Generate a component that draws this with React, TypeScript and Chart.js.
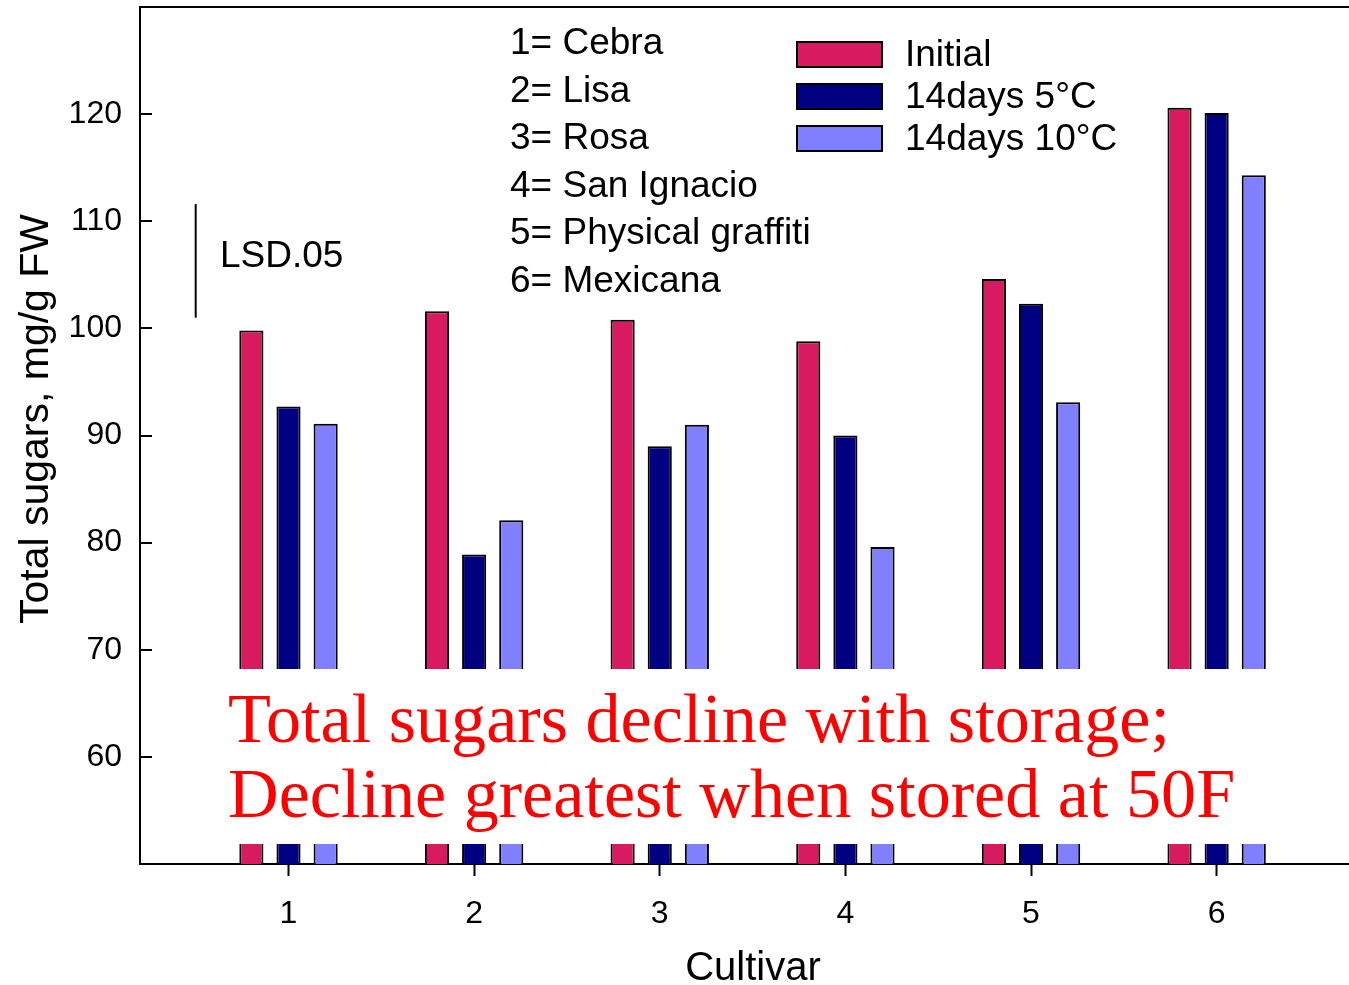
import React, { useEffect, useRef } from 'react';
import { Chart, registerables } from 'chart.js';

Chart.register(...registerables);

const cultivars = [1, 2, 3, 4, 5, 6];
const cultivarNames = ['Cebra', 'Lisa', 'Rosa', 'San Ignacio', 'Physical graffiti', 'Mexicana'];
const initialValues = [99.8, 101.6, 100.8, 98.8, 104.6, 120.6];
const days5Values = [92.7, 78.9, 89.0, 90.0, 102.3, 120.1];
const days10Values = [91.1, 82.1, 91.0, 79.6, 93.1, 114.3];
const seriesLabels = ['Initial', '14days 5°C', '14days 10°C'];
const seriesColors = ['#D81B60', '#000080', '#8080FF'];
const yTickValues = [60, 70, 80, 90, 100, 110, 120];
const lsdX = 0.5;
const lsdBase = 101.0;
const lsdValue = 10.6;
const noteLines = ['Total sugars decline with storage;', 'Decline greatest when stored at 50F'];

const SANS = '"Liberation Sans", Arial, sans-serif';
const SERIF = '"Liberation Serif", "Times New Roman", serif';

const overlayPlugin = {
  id: 'overlay',
  afterDraw(chart: any) {
    const ctx = chart.ctx as CanvasRenderingContext2D;
    const { chartArea, scales } = chart;
    const xs = scales.x;
    const ys = scales.y;
    ctx.save();
    ctx.strokeStyle = '#000';
    ctx.lineWidth = 2;
    // top frame line
    ctx.beginPath();
    ctx.moveTo(chartArea.left - 1, chartArea.top);
    ctx.lineTo(chartArea.right, chartArea.top);
    ctx.stroke();
    // inward y ticks
    yTickValues.forEach((v) => {
      const py = Math.round(ys.getPixelForValue(v));
      ctx.beginPath();
      ctx.moveTo(chartArea.left, py);
      ctx.lineTo(chartArea.left + 12, py);
      ctx.stroke();
    });
    // LSD bar
    const lx = xs.getPixelForValue(lsdX);
    ctx.beginPath();
    ctx.moveTo(lx, ys.getPixelForValue(lsdBase + lsdValue));
    ctx.lineTo(lx, ys.getPixelForValue(lsdBase));
    ctx.stroke();
    ctx.fillStyle = '#000';
    ctx.font = `37px ${SANS}`;
    ctx.textAlign = 'left';
    ctx.textBaseline = 'alphabetic';
    ctx.fillText('LSD.05', 220, 267);

    // cultivar key
    cultivarNames.forEach((name, i) => {
      ctx.fillText(`${cultivars[i]}= ${name}`, 510, 54 + i * 47.5);
    });

    // legend
    chart.data.datasets.forEach((ds: any, i: number) => {
      const by = 42 + i * 42;
      ctx.fillStyle = ds.backgroundColor;
      ctx.fillRect(797, by, 85, 25);
      ctx.strokeRect(797, by, 85, 25);
      ctx.fillStyle = '#000';
      ctx.fillText(ds.label, 905, by + 23.5);
    });

    // axis titles
    ctx.font = `40px ${SANS}`;
    ctx.textAlign = 'center';
    ctx.fillText('Cultivar', 753, 980);
    ctx.save();
    ctx.translate(48, 419);
    ctx.rotate(-Math.PI / 2);
    ctx.font = `41px ${SANS}`;
    ctx.fillText('Total sugars, mg/g FW', 0, 0);
    ctx.restore();

    // white note box with red text
    ctx.fillStyle = '#fff';
    ctx.fillRect(200, 669, 1110, 175);
    ctx.fillStyle = '#FF0000';
    ctx.textAlign = 'left';
    let size = 69;
    ctx.font = `${size}px ${SERIF}`;
    const w = ctx.measureText(noteLines[0]).width;
    size = size * (942 / w);
    ctx.font = `${size}px ${SERIF}`;
    ctx.fillText(noteLines[0], 228, 742);
    ctx.fillText(noteLines[1], 228, 817);
    ctx.restore();
  },
};

export default function App() {
  const canvasRef = useRef<HTMLCanvasElement | null>(null);

  useEffect(() => {
    const canvas = canvasRef.current;
    if (!canvas) return;
    const seriesValues = [initialValues, days5Values, days10Values];
    const chart = new Chart(canvas, {
      type: 'bar',
      data: {
        datasets: seriesValues.map((vals, s) => ({
          label: seriesLabels[s],
          data: cultivars.map((c, i) => ({ x: c, y: vals[i] })),
          backgroundColor: seriesColors[s],
          borderColor: '#000',
          borderWidth: 2,
          borderSkipped: 'start',
          categoryPercentage: 0.6,
          barPercentage: 0.65,
        })),
      },
      options: {
        responsive: false,
        animation: false,
        devicePixelRatio: 1,
        layout: { padding: { top: 7, left: 0, right: 0, bottom: 0 } },
        plugins: {
          legend: { display: false },
          tooltip: { enabled: false },
          title: { display: false },
        },
        scales: {
          x: {
            type: 'linear',
            min: 0.2,
            max: 6.713,
            offset: false,
            afterBuildTicks: (s: any) => {
              s.ticks = cultivars.map((v) => ({ value: v }));
            },
            afterFit: (s: any) => {
              s.height = 121;
              s.paddingLeft = 0;
              s.paddingRight = 0;
            },
            ticks: {
              font: { family: SANS, size: 32 },
              color: '#000',
              padding: 19,
              maxRotation: 0,
            },
            grid: {
              display: true,
              offset: false,
              drawOnChartArea: false,
              drawTicks: true,
              tickLength: 12,
              tickWidth: 2,
              tickColor: '#000',
            },
            border: { display: true, color: '#000', width: 2 },
          },
          y: {
            type: 'linear',
            min: 50,
            max: 130,
            afterBuildTicks: (s: any) => {
              s.ticks = yTickValues.map((v) => ({ value: v }));
            },
            afterFit: (s: any) => {
              s.width = 140;
              s.paddingTop = 0;
              s.paddingBottom = 0;
            },
            ticks: {
              font: { family: SANS, size: 32 },
              color: '#000',
              padding: 18,
            },
            grid: { display: true, drawOnChartArea: false, drawTicks: false },
            border: { display: true, color: '#000', width: 2 },
          },
        },
      } as any,
      plugins: [overlayPlugin],
    });
    return () => chart.destroy();
  }, []);

  return (
    <div style={{ position: 'absolute', left: 0, top: 0, width: 1349, height: 985, background: '#fff' }}>
      <canvas ref={canvasRef} width={1349} height={985} style={{ display: 'block' }} />
    </div>
  );
}
